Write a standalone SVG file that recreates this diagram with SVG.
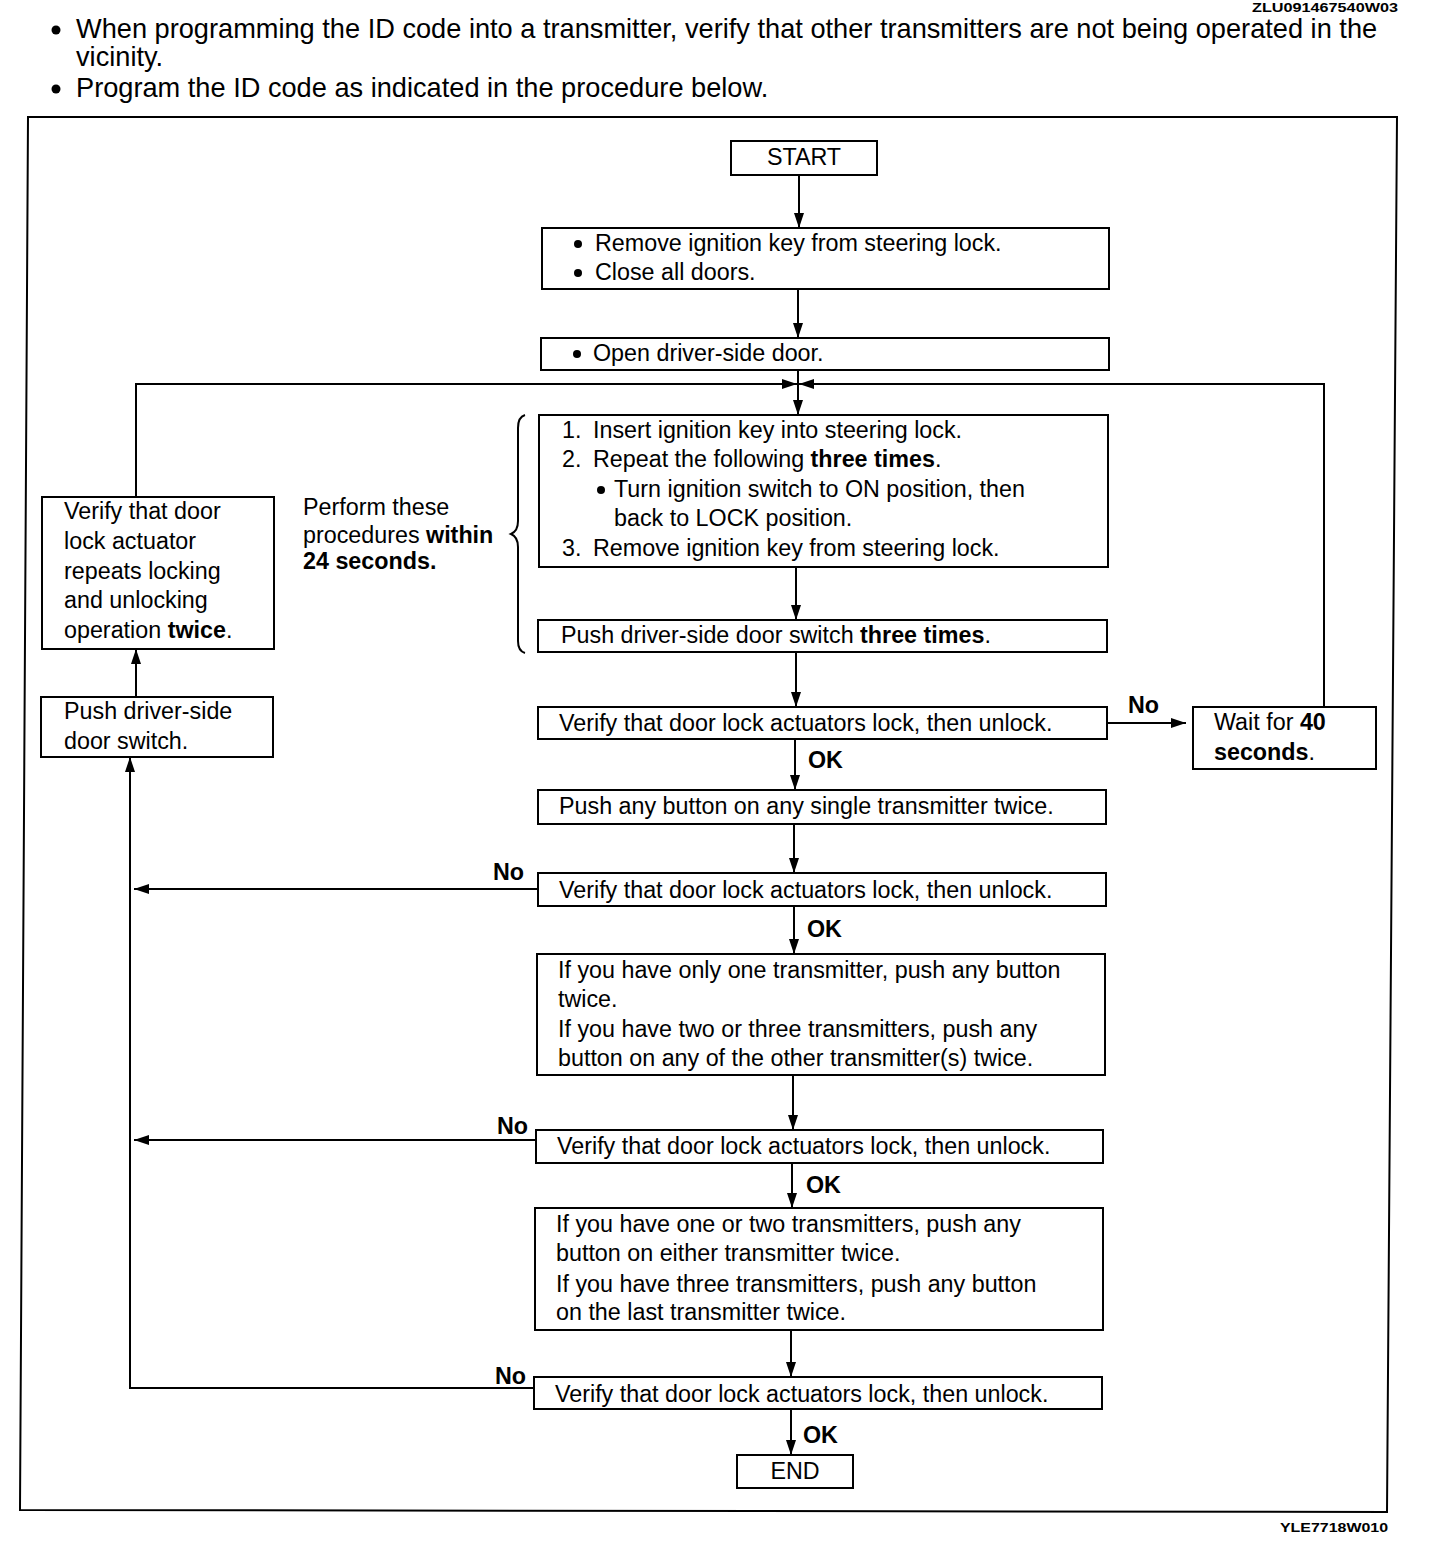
<svg xmlns="http://www.w3.org/2000/svg" width="1440" height="1548" viewBox="0 0 1440 1548">
<style>
text{font-family:"Liberation Sans",Arial,sans-serif;fill:#000}
.h{font-size:27.2px}
.t{font-size:23.3px}
.b{font-weight:bold}
.c{font-size:12px;font-weight:bold}
.box{fill:#fff;stroke:#000;stroke-width:2}
.ln{fill:none;stroke:#000;stroke-width:2}
</style>
<defs>
<marker id="ah" markerUnits="userSpaceOnUse" markerWidth="16" markerHeight="12" viewBox="0 0 16 12" refX="15" refY="6" orient="auto">
<path d="M0,1 L15,6 L0,11 Z" fill="#000"/>
</marker>
</defs>
<rect width="1440" height="1548" fill="#fff"/>
<text class="c" x="1252" y="12" textLength="146" lengthAdjust="spacingAndGlyphs">ZLU091467540W03</text>
<g id="header">
<circle cx="56" cy="30" r="4.5"/>
<text class="h" x="76" y="38">When programming the ID code into a transmitter, verify that other transmitters are not being operated in the</text>
<text class="h" x="76" y="66">vicinity.</text>
<circle cx="56" cy="89" r="4.5"/>
<text class="h" x="76" y="97">Program the ID code as indicated in the procedure below.</text>
</g>
<polygon class="ln" points="28,117 1397,117 1387,1512 20,1510" stroke-width="2.5"/>
<text class="c" x="1280" y="1532" textLength="108" lengthAdjust="spacingAndGlyphs">YLE7718W010</text>

<g id="connectors">
<line class="ln" x1="799" y1="175" x2="799" y2="228" marker-end="url(#ah)"/>
<line class="ln" x1="798" y1="289" x2="798" y2="338" marker-end="url(#ah)"/>
<line class="ln" x1="798" y1="370" x2="798" y2="415" marker-end="url(#ah)"/>
<polyline class="ln" points="136,497 136,384 797,384" marker-end="url(#ah)"/>
<polyline class="ln" points="1324,707 1324,384 799,384" marker-end="url(#ah)"/>
<line class="ln" x1="796" y1="567" x2="796" y2="620" marker-end="url(#ah)"/>
<line class="ln" x1="796" y1="652" x2="796" y2="707" marker-end="url(#ah)"/>
<line class="ln" x1="1107" y1="723" x2="1186" y2="723" marker-end="url(#ah)"/>
<line class="ln" x1="795" y1="739" x2="795" y2="790" marker-end="url(#ah)"/>
<line class="ln" x1="794" y1="824" x2="794" y2="873" marker-end="url(#ah)"/>
<line class="ln" x1="794" y1="906" x2="794" y2="954" marker-end="url(#ah)"/>
<line class="ln" x1="793" y1="1075" x2="793" y2="1130" marker-end="url(#ah)"/>
<line class="ln" x1="792" y1="1163" x2="792" y2="1208" marker-end="url(#ah)"/>
<line class="ln" x1="791" y1="1330" x2="791" y2="1377" marker-end="url(#ah)"/>
<line class="ln" x1="791" y1="1409" x2="791" y2="1455" marker-end="url(#ah)"/>
<line class="ln" x1="538" y1="889" x2="134" y2="889" marker-end="url(#ah)"/>
<line class="ln" x1="536" y1="1140" x2="134" y2="1140" marker-end="url(#ah)"/>
<polyline class="ln" points="534,1388 130,1388 130,757" marker-end="url(#ah)"/>
<line class="ln" x1="136" y1="697" x2="136" y2="649" marker-end="url(#ah)"/>
<text class="t b" x="1128" y="713">No</text>
<text class="t b" x="808" y="768">OK</text>
<text class="t b" x="493" y="880">No</text>
<text class="t b" x="807" y="937">OK</text>
<text class="t b" x="497" y="1134">No</text>
<text class="t b" x="806" y="1193">OK</text>
<text class="t b" x="495" y="1384">No</text>
<text class="t b" x="803" y="1443">OK</text>
</g>

<g id="start">
<rect class="box" x="731" y="141" width="146" height="34"/>
<text class="t" x="804" y="165" text-anchor="middle">START</text>
</g>
<g id="step1">
<rect class="box" x="542" y="228" width="567" height="61"/>
<circle cx="578" cy="244" r="4"/>
<text class="t" x="595" y="251">Remove ignition key from steering lock.</text>
<circle cx="578" cy="273" r="4"/>
<text class="t" x="595" y="280">Close all doors.</text>
</g>
<g id="step2">
<rect class="box" x="541" y="338" width="568" height="32"/>
<circle cx="577" cy="354" r="4"/>
<text class="t" x="593" y="361">Open driver-side door.</text>
</g>
<g id="step3">
<rect class="box" x="539" y="415" width="569" height="152"/>
<text class="t" x="562" y="438">1.</text>
<text class="t" x="593" y="438">Insert ignition key into steering lock.</text>
<text class="t" x="562" y="467">2.</text>
<text class="t" x="593" y="467">Repeat the following <tspan class="b">three times</tspan>.</text>
<circle cx="601" cy="490" r="4"/>
<text class="t" x="614" y="497">Turn ignition switch to ON position, then</text>
<text class="t" x="614" y="526">back to LOCK position.</text>
<text class="t" x="562" y="556">3.</text>
<text class="t" x="593" y="556">Remove ignition key from steering lock.</text>
</g>
<g id="brace">
<path class="ln" d="M525,415 Q518,417 518,428 L518,521 Q518,531 511,534 Q518,537 518,547 L518,641 Q518,651 525,653"/>
<text class="t" x="303" y="515">Perform these</text>
<text class="t" x="303" y="543">procedures <tspan class="b">within</tspan></text>
<text class="t b" x="303" y="569">24 seconds.</text>
</g>
<g id="step4">
<rect class="box" x="538" y="620" width="569" height="32"/>
<text class="t" x="561" y="643">Push driver-side door switch <tspan class="b">three times</tspan>.</text>
</g>
<g id="check1">
<rect class="box" x="538" y="707" width="569" height="32"/>
<text class="t" x="559" y="731">Verify that door lock actuators lock, then unlock.</text>
</g>
<g id="wait">
<rect class="box" x="1193" y="707" width="183" height="62"/>
<text class="t" x="1214" y="730">Wait for <tspan class="b">40</tspan></text>
<text class="t" x="1214" y="760"><tspan class="b">seconds</tspan>.</text>
</g>
<g id="step5">
<rect class="box" x="538" y="790" width="568" height="34"/>
<text class="t" x="559" y="814">Push any button on any single transmitter twice.</text>
</g>
<g id="check2">
<rect class="box" x="538" y="873" width="568" height="33"/>
<text class="t" x="559" y="898">Verify that door lock actuators lock, then unlock.</text>
</g>
<g id="step6">
<rect class="box" x="537" y="954" width="568" height="121"/>
<text class="t" x="558" y="978">If you have only one transmitter, push any button</text>
<text class="t" x="558" y="1007">twice.</text>
<text class="t" x="558" y="1037">If you have two or three transmitters, push any</text>
<text class="t" x="558" y="1066">button on any of the other transmitter(s) twice.</text>
</g>
<g id="check3">
<rect class="box" x="536" y="1130" width="567" height="33"/>
<text class="t" x="557" y="1154">Verify that door lock actuators lock, then unlock.</text>
</g>
<g id="step7">
<rect class="box" x="535" y="1208" width="568" height="122"/>
<text class="t" x="556" y="1232">If you have one or two transmitters, push any</text>
<text class="t" x="556" y="1261">button on either transmitter twice.</text>
<text class="t" x="556" y="1292">If you have three transmitters, push any button</text>
<text class="t" x="556" y="1320">on the last transmitter twice.</text>
</g>
<g id="check4">
<rect class="box" x="534" y="1377" width="568" height="32"/>
<text class="t" x="555" y="1402">Verify that door lock actuators lock, then unlock.</text>
</g>
<g id="end">
<rect class="box" x="737" y="1455" width="116" height="33"/>
<text class="t" x="795" y="1479" text-anchor="middle">END</text>
</g>
<g id="verifyRepeat">
<rect class="box" x="42" y="497" width="232" height="152"/>
<text class="t" x="64" y="519">Verify that door</text>
<text class="t" x="64" y="549">lock actuator</text>
<text class="t" x="64" y="579">repeats locking</text>
<text class="t" x="64" y="608">and unlocking</text>
<text class="t" x="64" y="638">operation <tspan class="b">twice</tspan>.</text>
</g>
<g id="pushSwitch">
<rect class="box" x="41" y="697" width="232" height="60"/>
<text class="t" x="64" y="719">Push driver-side</text>
<text class="t" x="64" y="749">door switch.</text>
</g>
</svg>
